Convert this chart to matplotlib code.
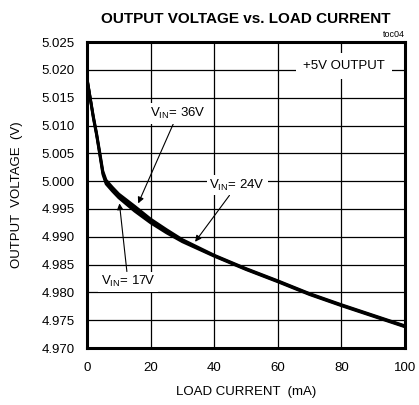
import numpy as np
import matplotlib
matplotlib.use("Agg")
import matplotlib.pyplot as plt

plt.rcParams['font.family'] = ['Liberation Sans', 'DejaVu Sans']

# load current (mA) and output voltage (V) for each input voltage
load_ma = [0, 1, 2, 3, 4, 5, 6, 8, 10, 15, 20, 25, 30, 40, 50, 60, 70, 80, 90, 100]
vout_24v = [5.0185, 5.0150, 5.0115, 5.0085, 5.0050, 5.0015, 4.9998, 4.9985, 4.9973, 4.9950,
            4.9928, 4.9910, 4.9893, 4.9866, 4.9842, 4.9820, 4.9797, 4.9777, 4.9758, 4.9739]
vout_36v = [5.0186, 5.0151, 5.0117, 5.0087, 5.0053, 5.0018, 5.0002, 4.9989, 4.9977, 4.9955,
            4.9932, 4.9913, 4.9895, 4.9867, 4.9843, 4.9821, 4.9798, 4.9778, 4.9759, 4.9740]
vout_17v = [5.0184, 5.0149, 5.0113, 5.0083, 5.0048, 5.0012, 4.9995, 4.9982, 4.9970, 4.9946,
            4.9925, 4.9907, 4.9891, 4.9865, 4.9841, 4.9819, 4.9796, 4.9776, 4.9757, 4.9738]

fig = plt.figure(figsize=(4.19, 4.05), dpi=100)
ax = fig.add_axes([0.2076, 0.1407, 0.7590, 0.7553])

for v in (vout_17v, vout_24v, vout_36v):
    ax.plot(load_ma, v, color='black', lw=2.0, solid_capstyle='butt')

ax.set_xlim(0, 100)
ax.set_ylim(4.970, 5.025)
ax.set_xticks(np.arange(0, 101, 20))
ax.set_yticks(np.arange(4.970, 5.0251, 0.005))
ax.set_yticklabels(["%.3f" % t for t in np.arange(4.970, 5.0251, 0.005)])
ax.tick_params(length=0, labelsize=9.5)
ax.tick_params(axis='y', pad=9)
ax.tick_params(axis='x', pad=10)
ax.grid(True, color='black', lw=0.9)
for s in ax.spines.values():
    s.set_linewidth(2.2)

ax.set_title('OUTPUT VOLTAGE vs. LOAD CURRENT', fontsize=11, fontweight='bold', pad=14)
ax.text(1.0, 1.01, 'toc04', transform=ax.transAxes, ha='right', va='bottom', fontsize=6.5)
ax.set_xlabel('LOAD CURRENT  (mA)', fontsize=9.5, labelpad=9)
ax.set_ylabel('OUTPUT  VOLTAGE  (V)', fontsize=9.5, labelpad=13)

box = dict(facecolor='white', edgecolor='none', pad=2)
ax.text(80.8, 5.0207, '+5V OUTPUT', ha='center', va='center', fontsize=9.5,
        bbox=dict(facecolor='white', edgecolor='none', pad=5))

arrow = dict(arrowstyle='-|>', color='black', lw=0.8, mutation_scale=9,
             shrinkA=0, shrinkB=0)
ax.annotate('V$_{\\mathregular{IN}}$= 36V', xy=(16.1, 4.9960), xytext=(28.6, 5.0122),
            ha='center', va='center', fontsize=9.5, bbox=box, arrowprops=arrow)
ax.annotate('V$_{\\mathregular{IN}}$= 24V', xy=(34.0, 4.9891), xytext=(47.2, 4.9993),
            ha='center', va='center', fontsize=9.5, bbox=box, arrowprops=arrow)
ax.annotate('V$_{\\mathregular{IN}}$= 17V', xy=(10.2, 4.9960), xytext=(12.9, 4.9819),
            ha='center', va='center', fontsize=9.5, bbox=box, arrowprops=arrow)

fig.savefig('out.png', dpi=100)
